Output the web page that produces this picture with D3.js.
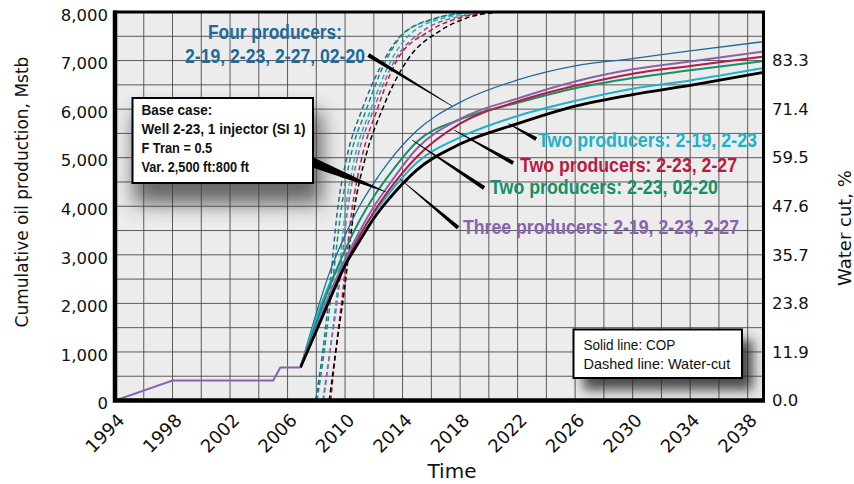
<!DOCTYPE html>
<html>
<head>
<meta charset="utf-8">
<script src="https://cdn.jsdelivr.net/npm/d3@7"></script>
<style>
  body { margin: 0; background: #fff; }
  svg { display: block; font-family: "DejaVu Sans", sans-serif; }
  .cond { font-family: "Liberation Sans Narrow", "Liberation Sans", Arial, sans-serif; }
</style>
</head>
<body>
<div id="chart"></div>
<script>
// tick labels
var xTicks = [1994, 1998, 2002, 2006, 2010, 2014, 2018, 2022, 2026, 2030, 2034, 2038];
var yTicks = [0, 1000, 2000, 3000, 4000, 5000, 6000, 7000, 8000];
var wcTicks = [0.0, 11.9, 23.8, 35.7, 47.6, 59.5, 71.4, 83.3];

// history, shared by every case (Mstb)
var histYears = [1994, 1998, 2005, 2005.5, 2006.9];
var histValues = [0, 410, 410, 680, 680];

// cumulative oil production forecast (Mstb)
var copYears  = [2006.9, 2008, 2009, 2010, 2011, 2012, 2013, 2015, 2018, 2022, 2026, 2030, 2034, 2039.1];
var copFour   = [680, 1800, 2700, 3400, 4000, 4480, 4900, 5560, 6140, 6600, 6890, 7040, 7200, 7390];
var copTwoA   = [680, 1700, 2450, 2900, 3400, 3850, 4240, 4900, 5420, 5860, 6170, 6420, 6590, 6845]; // 2-19, 2-23
var copTwoB   = [680, 1450, 2150, 2800, 3380, 3880, 4310, 5020, 5700, 6160, 6480, 6730, 6890, 7080]; // 2-23, 2-27
var copTwoC   = [680, 1600, 2400, 3100, 3700, 4200, 4620, 5330, 5790, 6130, 6430, 6640, 6800, 6990]; // 2-23, 02-20
var copThree  = [680, 1500, 2250, 2900, 3480, 3990, 4420, 5190, 5800, 6220, 6570, 6820, 6980, 7185];
var copBase   = [680, 1430, 2120, 2780, 3280, 3750, 4130, 4750, 5280, 5700, 6060, 6300, 6490, 6755];

// water cut (%), [year, value]
var wcFour  = [[2007.95,0],[2008.45,12],[2008.95,28],[2009.45,46],[2010.15,60],[2011.15,71],[2012.5,82],[2013.9,89.5],[2016.2,93.5],[2018.6,95.2],[2021,96.5]];
var wcTwoC  = [[2008.05,0],[2008.55,12],[2009.1,28],[2009.7,46],[2010.4,60],[2011.45,71],[2012.8,83],[2014.1,90],[2016.4,93.8],[2018.7,95.2],[2021,96.5]];
var wcTwoA  = [[2008.5,0],[2008.95,12],[2009.45,27],[2010.0,46],[2010.7,60],[2011.75,71],[2013.15,83],[2014.7,90.3],[2017.2,94],[2019.5,95.2],[2022,96.5]];
var wcThree = [[2008.45,0],[2008.95,12],[2009.55,27],[2010.15,46],[2010.9,60],[2011.95,71],[2013.4,83],[2015.4,90.5],[2017.8,94],[2019.8,95.2],[2022,96.5]];
var wcTwoB  = [[2009.0,0],[2009.35,12],[2009.85,27],[2010.45,46],[2011.2,60],[2012.2,71],[2013.55,83],[2015.9,90.6],[2018.2,94],[2020.0,95.2],[2022,96.5]];
var wcBase  = [[2008.9,0],[2009.35,12],[2009.95,27],[2010.6,46],[2011.45,60],[2012.55,71],[2014.25,83],[2016.7,90.8],[2018.7,94],[2020.7,95.2],[2023,96.5]];

var colors = {four: "#1d6a9b", twoA: "#1fb2c8", twoB: "#b51c43", twoC: "#14906a", three: "#8b62ab", base: "#000"};

var svg = d3.select("#chart").append("svg").attr("width", 854).attr("height", 484);

var x = d3.scaleLinear().domain([1994, 2039.1]).range([115, 763.5]);
var y = d3.scaleLinear().domain([0, 8000]).range([400.5, 12]);
var yR = d3.scaleLinear().domain([0, 95.2]).range([400.5, 12]);

var defs = svg.append("defs");
defs.append("clipPath").attr("id", "plotclip")
  .append("rect").attr("x", 115).attr("y", 12).attr("width", 648.5).attr("height", 388.5);
defs.append("filter").attr("id", "blur").attr("x", "-50%").attr("y", "-50%").attr("width", "200%").attr("height", "200%")
  .append("feGaussianBlur").attr("stdDeviation", 10);
defs.append("filter").attr("id", "blur2").attr("x", "-50%").attr("y", "-50%").attr("width", "200%").attr("height", "200%")
  .append("feGaussianBlur").attr("stdDeviation", 6);

// plot background
svg.append("rect").attr("x", 115).attr("y", 12).attr("width", 648.5).attr("height", 388.5).attr("fill", "#ececec");

// grid
var grid = svg.append("g").attr("stroke", "#4a4a4a").attr("stroke-width", 0.9);
grid.selectAll("line.v").data(d3.range(1996, 2039, 2)).enter().append("line")
  .attr("x1", d => x(d)).attr("x2", d => x(d)).attr("y1", y(8000)).attr("y2", y(0));
grid.selectAll("line.h").data(d3.range(500, 8000, 500)).enter().append("line")
  .attr("x1", x(1994)).attr("x2", x(2039.1)).attr("y1", d => y(d)).attr("y2", d => y(d));

// shadows of the note boxes
var shadows = svg.append("g").attr("clip-path", "url(#plotclip)");
shadows.append("rect").attr("x", 134).attr("y", 112).attr("width", 188).attr("height", 92)
  .attr("fill", "#3a3a3a").attr("opacity", 0.75).attr("filter", "url(#blur)");
shadows.append("rect").attr("x", 583).attr("y", 340).attr("width", 170).attr("height", 50)
  .attr("fill", "#222").attr("opacity", 0.8).attr("filter", "url(#blur2)");

var plot = svg.append("g").attr("clip-path", "url(#plotclip)");

// water cut, dashed
var wcLine = d3.line().x(d => x(d[0])).y(d => yR(d[1])).curve(d3.curveMonotoneX);
var wcSeries = [
  {data: wcFour, color: colors.four},
  {data: wcTwoC, color: colors.twoC},
  {data: wcTwoA, color: colors.twoA},
  {data: wcThree, color: colors.three},
  {data: wcTwoB, color: colors.twoB},
  {data: wcBase, color: colors.base}
];
plot.selectAll("path.wc").data(wcSeries).enter().append("path")
  .attr("class", "wc")
  .attr("d", d => wcLine(d.data))
  .attr("fill", "none").attr("stroke", d => d.color)
  .attr("stroke-width", 1.5).attr("stroke-dasharray", "5,3");

// cumulative oil production, solid
var copLine = d3.line().x(d => x(d[0])).y(d => y(d[1])).curve(d3.curveMonotoneX);
var copSeries = [
  {vals: copFour, color: colors.four, w: 1.3},
  {vals: copTwoA, color: colors.twoA, w: 2},
  {vals: copTwoC, color: colors.twoC, w: 2},
  {vals: copTwoB, color: colors.twoB, w: 2},
  {vals: copThree, color: colors.three, w: 2},
  {vals: copBase, color: colors.base, w: 2.8}
];
plot.selectAll("path.cop").data(copSeries).enter().append("path")
  .attr("class", "cop")
  .attr("d", d => copLine(copYears.map((yr, i) => [yr, d.vals[i]])))
  .attr("fill", "none").attr("stroke", d => d.color).attr("stroke-width", d => d.w);

plot.append("path")
  .attr("d", d3.line().x(d => x(d[0])).y(d => y(d[1]))(histYears.map((yr, i) => [yr, histValues[i]])))
  .attr("fill", "none").attr("stroke", colors.three).attr("stroke-width", 2);

// frame
svg.append("rect").attr("x", 115).attr("y", 12).attr("width", 648.5).attr("height", 388.5)
  .attr("fill", "none").attr("stroke", "#000").attr("stroke-width", 3);
svg.append("path").attr("d", "M115,10.5V400.5H765")
  .attr("fill", "none").attr("stroke", "#000").attr("stroke-width", 4.5);

// axes
var yAxis = svg.append("g").attr("transform", "translate(115,0)")
  .call(d3.axisLeft(y).tickValues(yTicks).tickFormat(d3.format(",")).tickSize(0).tickPadding(7));
var xAxis = svg.append("g").attr("transform", "translate(0,400.5)")
  .call(d3.axisBottom(x).tickValues(xTicks).tickFormat(d3.format("d")).tickSize(0));
var rAxis = svg.append("g").attr("transform", "translate(763.5,0)")
  .call(d3.axisRight(yR).tickValues(wcTicks).tickFormat(d3.format(".1f")).tickSize(0).tickPadding(8.5));
[yAxis, xAxis, rAxis].forEach(function(a) {
  a.select(".domain").remove();
  a.selectAll("text").attr("font-family", "DejaVu Sans, sans-serif").attr("font-size", 16.5).attr("fill", "#111");
});
yAxis.selectAll("text").attr("dy", "0.5em");
xAxis.selectAll("text").attr("x", 0).attr("y", 0).attr("dy", 0).attr("font-size", 18)
  .attr("text-anchor", "end").attr("transform", "translate(10,21) rotate(-45)");

// axis titles
svg.append("text").attr("transform", "translate(28,192) rotate(-90)").attr("text-anchor", "middle")
  .attr("font-size", 17).attr("fill", "#111").text("Cumulative oil production, Mstb");
svg.append("text").attr("transform", "translate(851,228) rotate(-90)").attr("text-anchor", "middle")
  .attr("font-size", 18).attr("fill", "#111").text("Water cut, %");
svg.append("text").attr("x", 452).attr("y", 478).attr("text-anchor", "middle")
  .attr("font-size", 20).attr("fill", "#111").text("Time");

// leader lines, tapering toward the curve
function wedge(x0, y0, x1, y1, w0, w1) {
  var dx = x1 - x0, dy = y1 - y0, len = Math.sqrt(dx * dx + dy * dy);
  var nx = -dy / len, ny = dx / len;
  return "M" + (x0 + nx * w0 / 2) + "," + (y0 + ny * w0 / 2) +
    "L" + (x1 + nx * w1 / 2) + "," + (y1 + ny * w1 / 2) +
    "L" + (x1 - nx * w1 / 2) + "," + (y1 - ny * w1 / 2) +
    "L" + (x0 - nx * w0 / 2) + "," + (y0 - ny * w0 / 2) + "Z";
}
var leaders = [
  {from: [2011.62, 7114], to: [2017.44, 6063], w: 4},
  {from: [2023.29, 5385], to: [2021.34, 5704], w: 4},
  {from: [2021.69, 4890], to: [2017.58, 5570], w: 4},
  {from: [2019.67, 4376], to: [2014.66, 5364], w: 4},
  {from: [2017.86, 3556], to: [2013.83, 4559], w: 4},
  {from: [2007.6, 4920], to: [2012.85, 4294], w: 10}
];
svg.append("g").selectAll("path").data(leaders).enter().append("path")
  .attr("d", d => wedge(x(d.from[0]), y(d.from[1]), x(d.to[0]), y(d.to[1]), d.w, 0.5))
  .attr("fill", "#000");

// series labels
var labels = [
  {text: "Four producers:", x: 275, y: 39, len: 134, anchor: "middle", color: colors.four},
  {text: "2-19, 2-23, 2-27, 02-20", x: 275, y: 63, len: 180, anchor: "middle", color: colors.four},
  {text: "Two producers: 2-19, 2-23", x: 538, y: 146.5, len: 219, anchor: "start", color: colors.twoA},
  {text: "Two producers: 2-23, 2-27", x: 520, y: 171.5, len: 217, anchor: "start", color: colors.twoB},
  {text: "Two producers: 2-23, 02-20", x: 490, y: 193.5, len: 228, anchor: "start", color: colors.twoC},
  {text: "Three producers: 2-19, 2-23, 2-27", x: 463, y: 233.5, len: 276, anchor: "start", color: colors.three}
];
svg.append("g").selectAll("text").data(labels).enter().append("text")
  .attr("class", "cond")
  .attr("x", d => d.x).attr("y", d => d.y)
  .attr("text-anchor", d => d.anchor)
  .attr("textLength", d => d.len).attr("lengthAdjust", "spacingAndGlyphs")
  .attr("font-size", 20).attr("font-weight", "bold").attr("fill", d => d.color)
  .text(d => d.text);

// base case box
svg.append("rect").attr("x", 132.5).attr("y", 98).attr("width", 180.5).attr("height", 85)
  .attr("fill", "#fff").attr("stroke", "#000").attr("stroke-width", 2);
var baseLines = [
  {text: "Base case:", y: 114.5, len: 70.7},
  {text: "Well 2-23, 1 injector (SI 1)", y: 133.5, len: 164},
  {text: "F Tran = 0.5", y: 152.5, len: 70.7},
  {text: "Var. 2,500 ft:800 ft", y: 172, len: 107.6}
];
svg.append("g").selectAll("text").data(baseLines).enter().append("text")
  .attr("class", "cond")
  .attr("x", 141.5).attr("y", d => d.y)
  .attr("textLength", d => d.len).attr("lengthAdjust", "spacingAndGlyphs")
  .attr("font-size", 15).attr("font-weight", "bold").attr("fill", "#111")
  .text(d => d.text);

// line style key
svg.append("rect").attr("x", 573.5).attr("y", 329.5).attr("width", 168.5).attr("height", 48.5)
  .attr("fill", "#fff").attr("stroke", "#000").attr("stroke-width", 2);
var keyLines = [
  {text: "Solid line: COP", y: 350, len: 91.7},
  {text: "Dashed line: Water-cut", y: 368.5, len: 146.7}
];
svg.append("g").selectAll("text").data(keyLines).enter().append("text")
  .attr("class", "cond")
  .attr("x", 583.5).attr("y", d => d.y)
  .attr("textLength", d => d.len).attr("lengthAdjust", "spacingAndGlyphs")
  .attr("font-size", 14.5).attr("fill", "#111")
  .text(d => d.text);
</script>
</body>
</html>
